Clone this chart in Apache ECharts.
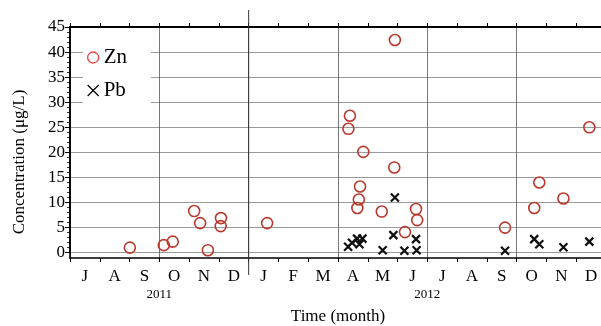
<!DOCTYPE html>
<html><head><meta charset="utf-8">
<script src="https://cdn.jsdelivr.net/npm/echarts@6/dist/echarts.min.js"></script>
<style>html,body{margin:0;padding:0;background:#fff}#c{width:601px;height:326px}</style>
</head><body><div id="c"></div>
<script>
// x values: months since 1 July 2011 (0 = Jul 1 2011, 6 = Jan 1 2012, 18 = Jan 1 2013)
var monthLabels = ['J','A','S','O','N','D','J','F','M','A','M','J','J','A','S','O','N','D'];
var yearTicks = [3, 12];
var yearLabels = ['2011', '2012'];
var znMonth = [2.01, 3.15, 3.45, 4.17, 4.37, 4.63, 5.07, 5.06, 6.62,
               10.91, 9.40, 9.35, 9.85, 10.89, 9.74, 9.70, 9.65, 10.47, 11.25, 11.62, 11.66, 14.61, 15.59, 15.76, 16.57, 17.44];
var znValue = [1.0, 1.5, 2.2, 8.3, 5.9, 0.5, 6.9, 5.3, 5.9,
               42.4, 27.3, 24.7, 20.1, 17.0, 13.2, 10.6, 8.9, 8.2, 4.1, 8.7, 6.5, 5.0, 8.9, 14.0, 10.8, 25.0];
var pbMonth = [9.34, 9.47, 9.64, 9.72, 9.82, 10.50, 10.91, 10.86, 11.23, 11.62, 11.64, 14.61, 15.59, 15.76, 16.57, 17.44];
var pbValue = [1.2, 2.0, 2.8, 1.7, 2.8, 0.5, 11.0, 3.5, 0.4, 2.7, 0.5, 0.4, 2.7, 1.7, 1.1, 2.2];

var F = 'Liberation Serif';
function pairs(xs, ys){ return xs.map(function(x,i){ return [x, ys[i]]; }); }

var chart = echarts.init(document.getElementById('c'), null, {renderer:'canvas'});
var option = {
  animation: false,
  backgroundColor: '#fff',
  grid: [
    {left: 70, right: -5, top: 27, bottom: 68, containLabel: false, outerBoundsMode: 'none'},
    {left: 70, right: -5, top: 27, bottom: 73.3, containLabel: false, outerBoundsMode: 'none'}
  ],
  legend: {
    orient: 'vertical', left: 83, top: 41,
    backgroundColor: '#fff',
    padding: [6, 24, 10, 4],
    itemGap: 12, itemWidth: 11, itemHeight: 11,
    textStyle: {fontFamily: F, fontSize: 21, color: '#000', width: 42},
    data: [
      {name: 'Zn', itemStyle: {color: 'rgba(0,0,0,0)', borderColor: '#e8403a', borderWidth: 1.3}},
      {name: 'Pb', itemStyle: {color: 'rgba(0,0,0,0)', borderColor: '#000', borderWidth: 1.2}}
    ]
  },
  xAxis: [
    { // 0: bottom month ticks
      gridIndex: 0, type: 'value', min: 0, max: 18, interval: 1, position: 'bottom',
      axisLine: {show: true, onZero: false, lineStyle: {color: '#000', width: 1.6}},
      axisTick: {show: true, inside: false, length: 4, lineStyle: {color: '#000', width: 1}},
      axisLabel: {show: false}, splitLine: {show: false},
      name: 'Time (month)', nameLocation: 'middle', nameGap: 50,
      nameTextStyle: {fontFamily: F, fontSize: 17, color: '#000'}
    },
    { // 1: top axis
      gridIndex: 0, type: 'value', min: 0, max: 18, interval: 1, position: 'top',
      axisLine: {show: true, onZero: false, lineStyle: {color: '#000', width: 2}},
      axisTick: {show: true, inside: false, length: 4, lineStyle: {color: '#000', width: 1}},
      axisLabel: {show: false}, splitLine: {show: false}
    },
    { // 2: quarterly vertical grid lines
      gridIndex: 0, type: 'value', min: 0, max: 18, interval: 3, position: 'bottom',
      axisLine: {show: false, onZero: false}, axisTick: {show: false}, axisLabel: {show: false},
      splitLine: {show: true, lineStyle: {color: '#555', width: 0.8}}
    },
    { // 3: month letters
      gridIndex: 0, type: 'category', data: monthLabels, boundaryGap: true, position: 'bottom',
      axisLine: {show: false, onZero: false}, axisTick: {show: false}, splitLine: {show: false},
      axisLabel: {show: true, interval: 0, margin: 10, fontFamily: F, fontSize: 17, color: '#000'}
    },
    { // 4: year labels
      gridIndex: 0, type: 'value', min: 0, max: 18, interval: 3, position: 'bottom',
      axisLine: {show: false, onZero: false}, axisTick: {show: false}, splitLine: {show: false},
      axisLabel: {show: true, margin: 30, fontFamily: F, fontSize: 13, color: '#000',
        formatter: function(v){ var i = yearTicks.indexOf(v); return i >= 0 ? yearLabels[i] : ''; }}
    },
    { // 5: hidden axis for grid 1
      gridIndex: 1, type: 'value', min: 0, max: 18, show: false
    }
  ],
  yAxis: [
    { // 0: data axis incl. region below zero
      gridIndex: 0, type: 'value', min: -1.06, max: 45,
      axisLine: {show: true, onZero: false, lineStyle: {color: '#000', width: 1.6}},
      axisTick: {show: false}, axisLabel: {show: false}, splitLine: {show: false}
    },
    { // 1: labelled axis
      gridIndex: 1, type: 'value', min: 0, max: 45, interval: 5,
      axisLine: {show: true, onZero: false, lineStyle: {color: '#000', width: 1.6}},
      axisTick: {show: true, inside: false, length: 5, lineStyle: {color: '#000', width: 1}},
      minorTick: {show: true, splitNumber: 5, length: 3, lineStyle: {color: '#000', width: 0.8}},
      axisLabel: {show: true, margin: 5, fontFamily: F, fontSize: 17, color: '#000'},
      splitLine: {show: true, lineStyle: {color: '#9a9a9a', width: 1}}
    }
  ],
  series: [
    {
      name: 'Zn', type: 'scatter', xAxisIndex: 0, yAxisIndex: 0,
      symbol: 'circle', symbolSize: 11, clip: false,
      itemStyle: {color: 'rgba(0,0,0,0)', borderColor: '#b93a2c', borderWidth: 1.6, opacity: 1},
      data: pairs(znMonth, znValue), z: 3
    },
    {
      name: 'Pb', type: 'scatter', xAxisIndex: 0, yAxisIndex: 0,
      symbol: 'path://M0,0L10,10M10,0L0,10', symbolSize: 8, clip: false,
      itemStyle: {color: 'rgba(0,0,0,0)', borderColor: '#111', borderWidth: 2.2, opacity: 1},
      data: pairs(pbMonth, pbValue), z: 4
    }
  ]
};
chart.setOption(option);

// year separator (1 Jan 2012) extending beyond the plot frame
var xs = chart.convertToPixel({xAxisIndex: 0}, 6);
var yTop = chart.convertToPixel({yAxisIndex: 0}, 45);
var yBot = chart.convertToPixel({yAxisIndex: 0}, -1.06);
chart.setOption({
  graphic: [
    {type: 'line', shape: {x1: xs, y1: yTop - 17, x2: xs, y2: yBot + 17}, style: {stroke: '#333', lineWidth: 1}, z: 10},
    {type: 'text', x: 20, y: 162, rotation: Math.PI / 2,
     style: {text: 'Concentration (μg/L)', font: '17px "Liberation Serif"', fill: '#000', align: 'center', verticalAlign: 'middle'}}
  ]
});
</script></body></html>
